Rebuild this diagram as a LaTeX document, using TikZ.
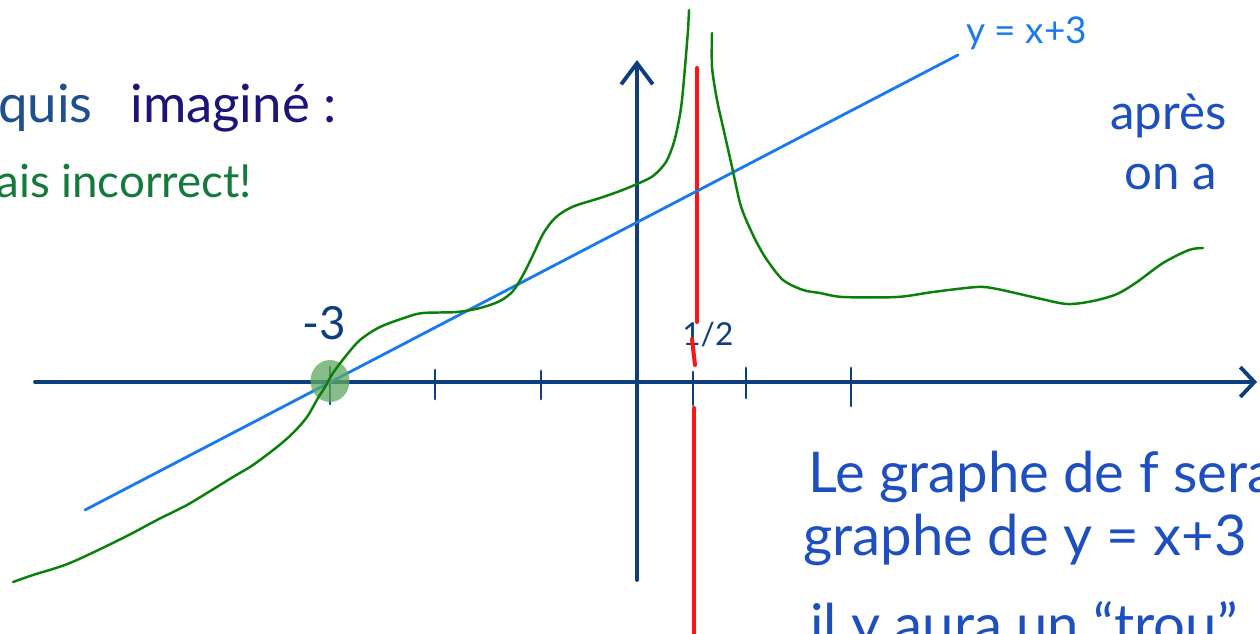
\documentclass[tikz,border=0pt]{standalone}
\usepackage{fontspec}
\setmainfont{Lato}
\usetikzlibrary{arrows.meta,positioning}
\definecolor{axisblue}{HTML}{0D3F80}
\definecolor{lineblue}{HTML}{1A78F0}
\definecolor{curvegreen}{HTML}{0A800A}
\definecolor{spotgreen}{HTML}{5FA85F}
\definecolor{asymred}{HTML}{FF1414}
\definecolor{inkblue}{HTML}{1F4F8F}
\definecolor{inkindigo}{HTML}{1C1478}
\definecolor{inkgreen}{HTML}{137A3C}
\definecolor{noteblue}{HTML}{1E4FC0}
\tikzset{
  axis/.style={draw=axisblue,line width=2.2pt,line cap=round},
  tick/.style={draw=axisblue,line width=1.6pt,line cap=round},
  fline/.style={draw=curvegreen,line width=1.4pt,line cap=round,line join=round},
  asym/.style={draw=asymred,line width=2.3pt,line cap=round},
  dline/.style={draw=lineblue,line width=1.6pt,line cap=round},
  note/.style={anchor=base west,inner sep=0pt,font=\fontsize{30}{34}\selectfont},
  bignote/.style={note,text=noteblue,font=\fontsize{32}{36}\selectfont},
}
\begin{document}
\begin{tikzpicture}[x=0.02cm,y=-0.02cm]
  \useasboundingbox (0,0) rectangle (1260,634);
  \clip (0,0) rectangle (1260,634);
  % axes
  \coordinate (xl) at (35,382);
  \coordinate (xr) at (1257,382);
  \coordinate (yb) at (637,580);
  \coordinate (yt) at (637,60);
  \draw[axis,-{Straight Barb[length=8pt,width=17pt]}] (xl) -- (xr);
  \draw[axis,-{Straight Barb[length=12pt,width=18pt]}] (yb) -- (yt);
  \foreach \x/\a/\b in {330/367/404,435/370/399,541/371/399,693/372/405,746/368/398,851/368/406}
    \draw[tick] (\x,\a) -- (\x,\b);
  \node[font=\fontsize{26}{28}\selectfont,text=axisblue,anchor=base west,inner sep=0pt] (mthree) at (302,340) {-3};
  \node[font=\fontsize{18}{20}\selectfont,text=axisblue,anchor=base west,inner sep=0pt] (half) at (682,346) {1/2};
  % asymptote
  \draw[asym] (697,68) -- (697,322);
  \draw[asym] (692,339) -- (695,365);
  \draw[asym] (694,408) -- (694,640);
  % the line y=x+3
  \coordinate (dstart) at (85,510);
  \coordinate (dend) at (958,55);
  \draw[dline] (dstart) -- (dend);
  \node[font=\fontsize{21}{24}\selectfont,text=lineblue,anchor=base west,inner sep=0pt] (dlabel) at (966,44) {y = x+3};
  % root
  \fill[spotgreen,opacity=0.75] (330,381) ellipse [x radius=0.39cm,y radius=0.42cm];
  % graph of f
  \draw[fline] plot[smooth,tension=0.5] coordinates {(13,582) (33,575) (70,563) (123,538) (157,520)
    (187,505) (207,493) (233,477) (253,465) (277,447) (293,433) (307,417) (318,398) (325,387) (333,373)
    (345,357) (360,340) (380,327) (407,317) (423,313) (457,312) (480,308) (500,301) (513,291) (523,275)
    (533,255) (543,234) (555,218) (572,207) (600,198) (620,191) (637,184) (653,176) (666,162) (674,142)
    (679,120) (682,100) (685,67) (688,30) (689,10)};
  \draw[fline] plot[smooth,tension=0.5] coordinates {(712,33) (712,67) (717,100) (723,127) (732,167) (740,203)
    (747,222) (757,243) (767,260) (783,280) (803,290) (820,293) (843,297) (897,297) (933,292) (977,287)
    (997,289) (1037,298) (1067,304) (1093,301) (1117,294) (1137,282) (1163,263) (1189,250) (1203,248)};
  % notes
  \node[note,text=inkblue] (croquis) at (-2,123) {quis};
  \node[note,text=inkindigo] (imagine) at (130,123) {imaginé :};
  \node[note,text=inkgreen,font=\fontsize{26}{30}\selectfont] (faux) at (-4,198) {ais incorrect!};
  \node[note,text=noteblue,font=\fontsize{28}{32}\selectfont] (apres) at (1110,130) {après};
  \node[note,text=noteblue,font=\fontsize{28}{32}\selectfont] (ona) at (1124,190) {on a};
  \node[bignote] (graphe1) at (808,492) {Le graphe de f sera};
  \node[bignote] (graphe2) at (803,555) {graphe de y = x+3};
  \node[bignote] (graphe3) at (810,644) {il y aura un “trou”};
\end{tikzpicture}
\end{document}
